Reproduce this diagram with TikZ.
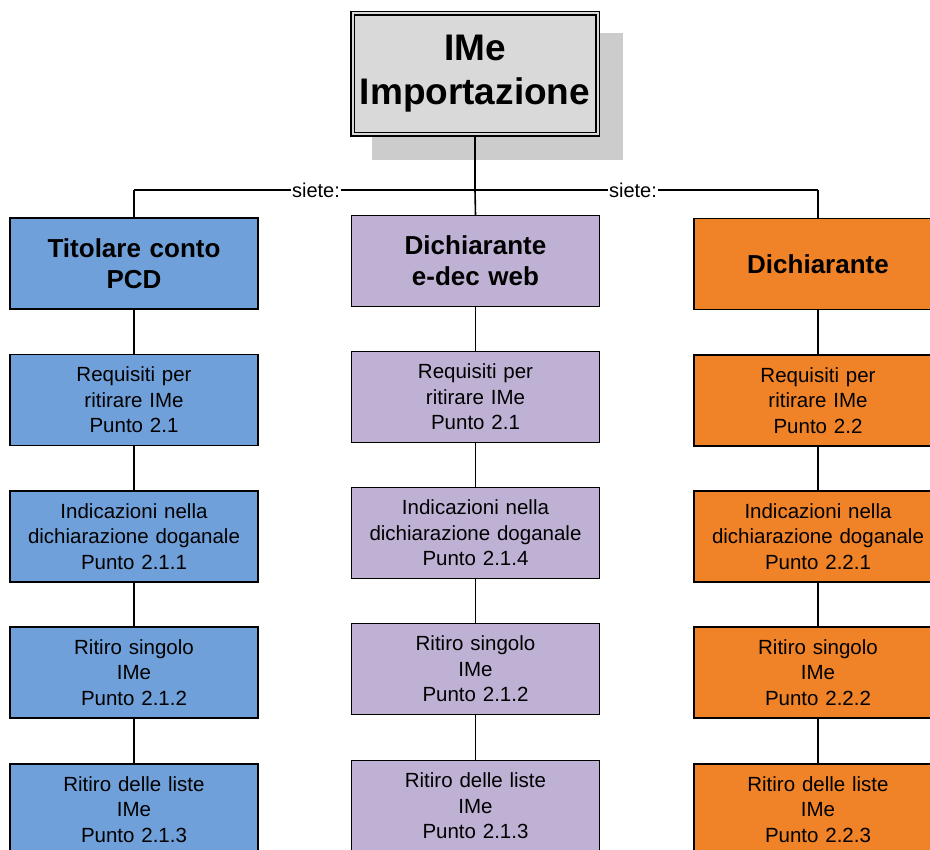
\documentclass[tikz,border=0pt]{standalone}
\usepackage{fontspec}
\setmainfont{Liberation Sans}
\definecolor{cblue}{RGB}{112,160,218}
\definecolor{cpurple}{RGB}{191,177,212}
\definecolor{corange}{RGB}{240,130,40}
\definecolor{rootgray}{RGB}{217,217,217}
\definecolor{shadowgray}{RGB}{204,204,204}
\begin{document}
\begin{tikzpicture}[x=1pt,y=-1pt,
  box/.style={draw=black, line width=1.4pt, minimum width=248pt, minimum height=91pt,
    inner sep=0pt, align=center, text width=244pt,
    font=\fontsize{20.5}{25.5}\selectfont},
  head/.style={box, font=\fontsize{26}{31}\selectfont\bfseries},
  conn/.style={line width=1.6pt, draw=black},
  lab/.style={fill=white, inner sep=1pt, font=\fontsize{20}{24}\selectfont},
  bl/.style={fill=cblue}, pu/.style={fill=cpurple}, or/.style={fill=corange}]
\useasboundingbox (0,0) rectangle (930,850);
\clip (0,0) rectangle (930,850);

% root with shadow
\fill[shadowgray] (372,33) rectangle (623,160);
\node[draw=black, line width=1.6pt, double=rootgray, double distance=2pt, fill=rootgray,
  minimum width=245pt, minimum height=121pt, inner sep=0pt, align=center,
  font=\fontsize{37}{44}\selectfont\bfseries] (root) at (475,74) {IMe\\Importazione};

% column 1
\node[head,bl] (c1h) at (134,263.5) {Titolare conto\\PCD};
\node[box,bl] (c1a) at (134,400) {Requisiti per\\ritirare IMe\\Punto 2.1};
\node[box,bl] (c1b) at (134,536.5) {Indicazioni nella\\dichiarazione doganale\\Punto 2.1.1};
\node[box,bl] (c1c) at (134,672.5) {Ritiro singolo\\IMe\\Punto 2.1.2};
\node[box,bl] (c1d) at (134,809.5) {Ritiro delle liste\\IMe\\Punto 2.1.3};

% column 2
\node[head,pu] (c2h) at (475.5,261) {Dichiarante\\e-dec web};
\node[box,pu] (c2a) at (475.5,397) {Requisiti per\\ritirare IMe\\Punto 2.1};
\node[box,pu] (c2b) at (475.5,533) {Indicazioni nella\\dichiarazione doganale\\Punto 2.1.4};
\node[box,pu] (c2c) at (475.5,669) {Ritiro singolo\\IMe\\Punto 2.1.2};
\node[box,pu] (c2d) at (475.5,806) {Ritiro delle liste\\IMe\\Punto 2.1.3};

% column 3
\node[head,or] (c3h) at (818,264) {Dichiarante};
\node[box,or] (c3a) at (818,400.5) {Requisiti per\\ritirare IMe\\Punto 2.2};
\node[box,or] (c3b) at (818,536.5) {Indicazioni nella\\dichiarazione doganale\\Punto 2.2.1};
\node[box,or] (c3c) at (818,672.5) {Ritiro singolo\\IMe\\Punto 2.2.2};
\node[box,or] (c3d) at (818,809.5) {Ritiro delle liste\\IMe\\Punto 2.2.3};

% connectors
\coordinate (hL) at (134,190);
\coordinate (hR) at (818,190);
\draw[conn] (hL) -- (hR);
\draw[conn, line width=2.4pt] (root.south) -- (root.south |- hL);
\draw[conn] (root.south |- hL) -- (c2h.north);
\draw[conn] (hL) -- (c1h.north);
\draw[conn] (hR) -- (c3h.north);
\node[lab] (s1) at (316,190) {siete:};
\node[lab] (s2) at (633,190) {siete:};

\foreach \c in {1,2,3}{
  \draw[conn] (c\c h.south) -- (c\c a.north);
  \draw[conn] (c\c a.south) -- (c\c b.north);
  \draw[conn] (c\c b.south) -- (c\c c.north);
  \draw[conn] (c\c c.south) -- (c\c d.north);
}
\end{tikzpicture}
\end{document}
